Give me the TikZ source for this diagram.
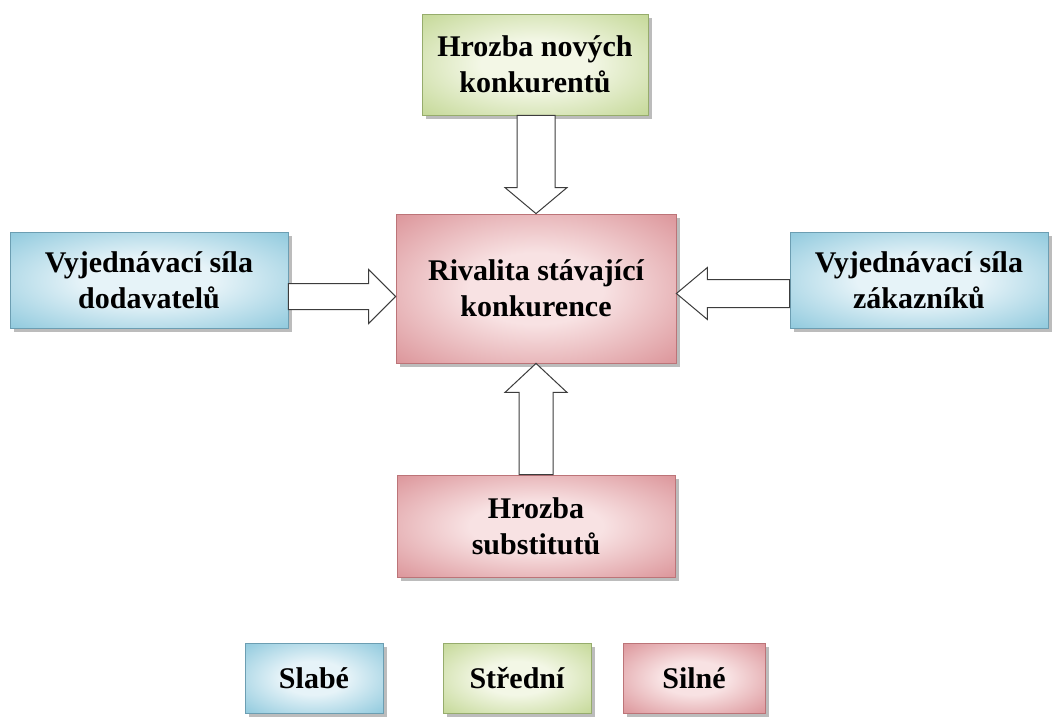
\documentclass[tikz,border=0pt]{standalone}
\usepackage{fontspec}
\setmainfont{Liberation Serif}
\usetikzlibrary{calc,shadows}

\definecolor{bluedark}{RGB}{120,190,214}
\definecolor{bluelight}{RGB}{230,243,248}
\definecolor{blueedge}{RGB}{108,158,178}
\definecolor{greendark}{RGB}{184,208,130}
\definecolor{greenlight}{RGB}{243,247,230}
\definecolor{greenedge}{RGB}{150,172,108}
\definecolor{reddark}{RGB}{212,128,134}
\definecolor{redlight}{RGB}{248,226,227}
\definecolor{rededge}{RGB}{188,116,120}
\definecolor{arrowedge}{RGB}{60,60,60}

% soft glow: light centre, darker rim
\pgfdeclareradialshading{blueglow}{\pgfpoint{0bp}{0bp}}{color(0bp)=(bluelight); color(12bp)=(bluelight); color(42bp)=(bluedark); color(75bp)=(bluedark)}
\pgfdeclareradialshading{greenglow}{\pgfpoint{0bp}{0bp}}{color(0bp)=(greenlight); color(12bp)=(greenlight); color(42bp)=(greendark); color(75bp)=(greendark)}
\pgfdeclareradialshading{redglow}{\pgfpoint{0bp}{0bp}}{color(0bp)=(redlight); color(12bp)=(redlight); color(42bp)=(reddark); color(75bp)=(reddark)}

\tikzset{
  force/.style={rectangle, inner sep=0pt, align=center,
    font=\fontsize{30}{36}\selectfont\bfseries, text=black,
    line width=0.8pt,
    drop shadow={shadow xshift=4pt, shadow yshift=-4pt, fill=gray!75, opacity=0.7}},
  weak/.style={force, draw=blueedge, shading=blueglow},
  medium/.style={force, draw=greenedge, shading=greenglow},
  strong/.style={force, draw=rededge, shading=redglow},
  blockarrow/.style={draw=arrowedge, fill=white, line width=1pt, line join=miter},
}

\begin{document}
\begin{tikzpicture}[x=1pt, y=-1pt]
  \useasboundingbox (0,0) rectangle (1059,720);

  % the five forces
  \node[medium, minimum width=226, minimum height=101] (entrants) at (535,64.5)
    {Hrozba nových\\konkurentů};
  \node[strong, minimum width=280, minimum height=149] (rivalry) at (536,288.5)
    {Rivalita stávající\\konkurence};
  \node[weak, minimum width=278, minimum height=96] (suppliers) at (149,280)
    {Vyjednávací síla\\dodavatelů};
  \node[weak, minimum width=258, minimum height=96] (buyers) at (919,280)
    {Vyjednávací síla\\zákazníků};
  \node[strong, minimum width=278, minimum height=102] (substitutes) at (536,526)
    {Hrozba\\substitutů};

  % legend
  \node[weak, minimum width=138, minimum height=70] (lweak) at (314,678) {Slabé};
  \node[medium, minimum width=148, minimum height=70] (lmedium) at (517,678) {Střední};
  \node[strong, minimum width=142, minimum height=70] (lstrong) at (694,678) {Silné};

  % block arrows pointing at the rivalry box
  % from the top
  \draw[blockarrow]
    ($(rivalry.north |- entrants.south)+(-19,0)$) --
    ($(rivalry.north)+(-19,-26)$) -- ($(rivalry.north)+(-31,-26)$) --
    (rivalry.north) --
    ($(rivalry.north)+(31,-26)$) -- ($(rivalry.north)+(19,-26)$) --
    ($(rivalry.north |- entrants.south)+(19,0)$) -- cycle;
  % from the bottom
  \draw[blockarrow]
    ($(rivalry.south |- substitutes.north)+(-17,0)$) --
    ($(rivalry.south)+(-17,29)$) -- ($(rivalry.south)+(-31,29)$) --
    (rivalry.south) --
    ($(rivalry.south)+(31,29)$) -- ($(rivalry.south)+(17,29)$) --
    ($(rivalry.south |- substitutes.north)+(17,0)$) -- cycle;
  % from the left
  \coordinate (ltip) at ($(rivalry.west)+(0,8)$);
  \draw[blockarrow]
    ($(suppliers.east |- ltip)+(0,-13)$) --
    ($(ltip)+(-27,-13)$) -- ($(ltip)+(-27,-27)$) --
    (ltip) --
    ($(ltip)+(-27,27)$) -- ($(ltip)+(-27,13)$) --
    ($(suppliers.east |- ltip)+(0,13)$) -- cycle;
  % from the right
  \coordinate (rtip) at ($(rivalry.east)+(0,5)$);
  \draw[blockarrow]
    ($(buyers.west |- rtip)+(0,-14)$) --
    ($(rtip)+(31,-14)$) -- ($(rtip)+(31,-26)$) --
    (rtip) --
    ($(rtip)+(31,26)$) -- ($(rtip)+(31,14)$) --
    ($(buyers.west |- rtip)+(0,14)$) -- cycle;
\end{tikzpicture}
\end{document}
